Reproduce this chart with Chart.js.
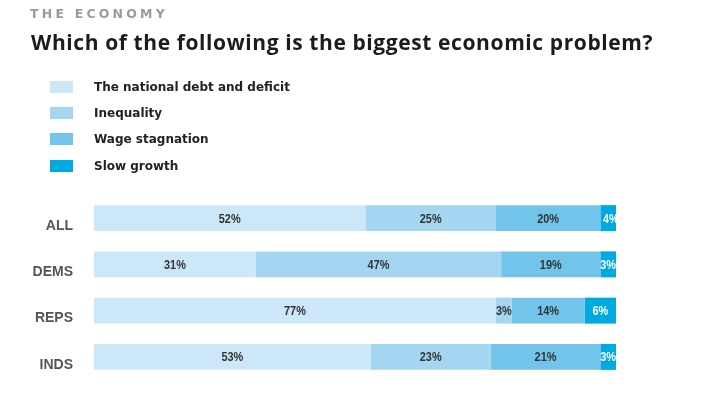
<!DOCTYPE html>
<html>
<head>
<meta charset="utf-8">
<script src="https://cdn.jsdelivr.net/npm/chart.js@4"></script>
<style>
    body { margin: 0; background: #fff; }
    #wrap { position: relative; width: 704px; height: 393px; overflow: hidden; }
    #chart { position: absolute; left: 0; top: 0; }
    .kicker { position: absolute; left: 30px; top: 6px; font: bold 12.5px "DejaVu Sans", sans-serif; letter-spacing: 3.2px; color: #9b9b9b; line-height: 16px; }
    .title { position: absolute; left: 31px; top: 28px; font: bold 21px "Open Sans", "Liberation Sans", sans-serif; letter-spacing: 0.6px; color: #1c1c1c; white-space: nowrap; line-height: 28px; }
    #legend { position: absolute; left: 50px; top: 79px; font: bold 12px "DejaVu Sans", sans-serif; color: #222; }
    .item { height: 26.2px; position: relative; }
    .box { position: absolute; left: 0; top: 2px; width: 23px; height: 12px; }
    .lbl { position: absolute; left: 44px; top: 0px; white-space: nowrap; line-height: 16px; }
</style>
</head>
<body>
<div id="wrap">
    <canvas id="chart" width="704" height="393"></canvas>
    <div class="kicker">THE ECONOMY</div>
    <div class="title">Which of the following is the biggest economic problem?</div>
    <div id="legend"></div>
</div>
<script>
// groups (rows)
const groups = ['ALL', 'DEMS', 'REPS', 'INDS'];

// answers, one series each
const seriesNames = ['The national debt and deficit', 'Inequality', 'Wage stagnation', 'Slow growth'];
const seriesColors = ['#cce7f8', '#a4d5f1', '#72c4eb', '#00a9e0'];

const debtDeficit = [52, 31, 77, 53];
const inequality = [25, 47, 3, 23];
const wageStagnation = [20, 19, 14, 21];
const slowGrowth = [4, 3, 6, 3];

const seriesValues = [debtDeficit, inequality, wageStagnation, slowGrowth];

// legend as html list
const legend = document.getElementById('legend');
seriesNames.forEach((name, i) => {
    const row = document.createElement('div');
    row.className = 'item';
    row.innerHTML = `<span class="box" style="background:${seriesColors[i]}"></span><span class="lbl">${name}</span>`;
    legend.appendChild(row);
});

// percent labels inside the bars
const valueLabels = {
    id: 'valueLabels',
    afterDatasetsDraw(chart) {
        const ctx = chart.ctx;
        chart.data.datasets.forEach((ds, i) => {
            const meta = chart.getDatasetMeta(i);
            meta.data.forEach((bar, j) => {
                const p = bar.getProps(['x', 'y', 'base'], true);
                ctx.save();
                ctx.translate((p.x + p.base) / 2, p.y + 1);
                ctx.scale(0.84, 1);
                ctx.font = 'bold 13px "Liberation Sans", Arial, sans-serif';
                ctx.fillStyle = i === 3 ? '#ffffff' : '#333333';
                ctx.textAlign = 'center';
                ctx.textBaseline = 'middle';
                ctx.fillText(ds.data[j] + '%', 0, 0);
                ctx.restore();
            });
        });
    }
};

const ctx = document.getElementById('chart').getContext('2d');
new Chart(ctx, {
    type: 'bar',
    data: {
        labels: groups,
        datasets: seriesNames.map((name, i) => ({
            label: name,
            data: seriesValues[i],
            backgroundColor: seriesColors[i],
            borderWidth: 0,
            barPercentage: 1,
            categoryPercentage: 0.562
        }))
    },
    options: {
        indexAxis: 'y',
        responsive: false,
        animation: false,
        layout: { padding: { top: 195, bottom: 13, left: 0, right: 88 } },
        plugins: {
            legend: { display: false },
            tooltip: { enabled: false }
        },
        scales: {
            x: { stacked: true, min: 0, max: 100, display: false },
            y: {
                stacked: true,
                grid: { display: false, drawTicks: false },
                border: { display: false },
                ticks: {
                    padding: 21,
                    labelOffset: 8,
                    color: '#555',
                    font: { family: '"Liberation Sans", Arial, sans-serif', size: 14, weight: 'bold' }
                },
                afterFit(scale) {
                    scale.width = 94;
                    scale.paddingTop = 0;
                    scale.paddingBottom = 0;
                }
            }
        }
    },
    plugins: [valueLabels]
});
</script>
</body>
</html>
